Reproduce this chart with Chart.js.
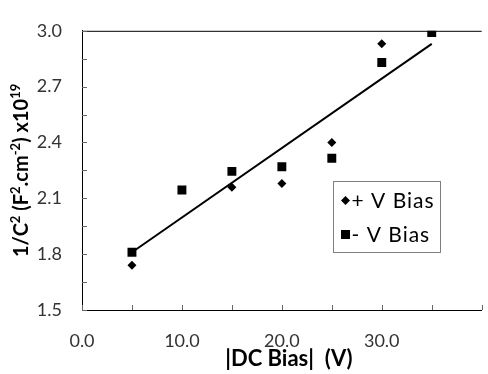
<!DOCTYPE html>
<html>
<head>
<meta charset="utf-8">
<script src="https://cdn.jsdelivr.net/npm/chart.js@4.4.1/dist/chart.umd.min.js"></script>
<style>
  html, body { margin: 0; padding: 0; background: #fff; }
  #wrap { width: 488px; height: 374px; }
</style>
</head>
<body>
<div id="wrap"><canvas id="chart"></canvas></div>
<script>
// data
const biasPlus = [5, 15, 20, 25, 30];
const invCapPlus = [1.74, 2.16, 2.18, 2.40, 2.93];
const biasMinus = [5, 10, 15, 20, 25, 30, 35];
const invCapMinus = [1.81, 2.145, 2.245, 2.27, 2.315, 2.83, 2.99];
const trendBias = [5, 35];
const trendInvCap = [1.81, 2.93];
const seriesNames = ['+ V Bias', '- V Bias'];

const xTitle = '|DC Bias|  (V)';
// y title pieces: [text, superscript?]
const yTitleParts = [['1/C', false], ['2', true], [' (F', false], ['2', true],
    ['.cm', false], ['-2', true], [') x10', false], ['19', true]];

const toPoints = (xs, ys) => xs.map((x, i) => ({ x: x, y: ys[i] }));

function drawSupText(ctx, parts, size) {
    const base = 'bold ' + size + 'px Lato';
    const sup = 'bold ' + Math.round(size * 0.65) + 'px Lato';
    let total = 0;
    parts.forEach(p => { ctx.font = p[1] ? sup : base; total += ctx.measureText(p[0]).width; });
    let x = -total / 2;
    ctx.textAlign = 'left';
    parts.forEach(p => {
        ctx.font = p[1] ? sup : base;
        ctx.fillText(p[0], x, p[1] ? -size * 0.33 : 0);
        x += ctx.measureText(p[0]).width;
    });
}

// inward ticks, top border, titles and the boxed legend
const decorPlugin = {
    id: 'decor',
    afterDraw(chart) {
        const ctx = chart.ctx;
        const a = chart.chartArea;
        const xs = chart.scales.x;
        const ys = chart.scales.y;
        ctx.save();

        ctx.strokeStyle = '#000';
        ctx.lineWidth = 1;
        ctx.beginPath();
        ctx.moveTo(a.left, a.top + 0.5);
        ctx.lineTo(a.right, a.top + 0.5);
        ctx.stroke();

        ctx.strokeStyle = '#666';
        ctx.beginPath();
        xs.ticks.forEach(t => {
            const px = Math.round(xs.getPixelForValue(t.value)) + 0.5;
            ctx.moveTo(px, a.bottom);
            ctx.lineTo(px, a.bottom - 5);
        });
        ys.ticks.forEach(t => {
            const py = Math.round(ys.getPixelForValue(t.value)) + 0.5;
            ctx.moveTo(a.left, py);
            ctx.lineTo(a.left + 5, py);
        });
        ctx.stroke();

        // axis titles
        ctx.fillStyle = '#000';
        ctx.font = 'bold 22px Lato';
        ctx.textAlign = 'center';
        ctx.textBaseline = 'middle';
        ctx.fillText(xTitle, (a.left + a.right) / 2 + 7, 359);
        ctx.translate(22, (a.top + a.bottom) / 2);
        ctx.rotate(-Math.PI / 2);
        drawSupText(ctx, yTitleParts, 20);
        ctx.setTransform(1, 0, 0, 1, 0, 0);

        // legend box
        const lx = 333.5, ly = 181.5, lw = 107, lh = 71;
        ctx.fillStyle = '#fff';
        ctx.fillRect(lx, ly, lw, lh);
        ctx.strokeStyle = '#7f7f7f';
        ctx.strokeRect(lx, ly, lw, lh);
        ctx.font = '21px Lato';
        ctx.letterSpacing = '1px';
        ctx.textAlign = 'left';
        chart.data.datasets.slice(0, 2).forEach((ds, i) => {
            const cy = ly + 19 + i * 34;
            Chart.helpers.drawPoint(ctx, {
                pointStyle: ds.pointStyle, radius: ds.pointRadius, borderWidth: 0
            }, lx + 12, cy);
            ctx.fillStyle = '#000';
            ctx.fill();
            ctx.fillText(ds.label, lx + 18, cy + 1);
        });
        ctx.restore();
    }
};

new Chart(document.getElementById('chart'), {
    type: 'scatter',
    data: {
        datasets: [
            {
                label: seriesNames[0],
                data: toPoints(biasPlus, invCapPlus),
                pointStyle: 'rectRot',
                pointRadius: 4.5,
                backgroundColor: '#000',
                borderColor: '#000',
                borderWidth: 0
            },
            {
                label: seriesNames[1],
                data: toPoints(biasMinus, invCapMinus),
                pointStyle: 'rect',
                pointRadius: 6.3,
                backgroundColor: '#000',
                borderColor: '#000',
                borderWidth: 0
            },
            {
                label: 'trend',
                data: toPoints(trendBias, trendInvCap),
                showLine: true,
                pointRadius: 0,
                borderColor: '#000',
                borderWidth: 2
            }
        ]
    },
    options: {
        responsive: true,
        maintainAspectRatio: false,
        animation: false,
        layout: { padding: { top: 21, right: 0, left: 0, bottom: 0 } },
        plugins: { legend: { display: false }, tooltip: { enabled: false } },
        scales: {
            x: {
                type: 'linear',
                min: 0,
                max: 40,
                grid: { display: false, drawTicks: false },
                border: { display: true, color: '#000', width: 1 },
                ticks: {
                    stepSize: 5,
                    autoSkip: false,
                    maxRotation: 0,
                    padding: 20,
                    color: '#333',
                    font: { family: 'Lato', size: 18 },
                    callback: v => (v % 10 === 0 && v < 40) ? v.toFixed(1) : ''
                },
                afterFit: s => { s.height = 64; s.paddingRight = 0; }
            },
            y: {
                min: 1.5,
                max: 3.0,
                grid: { display: false, drawTicks: false },
                border: { display: true, color: '#000', width: 1 },
                ticks: {
                    stepSize: 0.15,
                    autoSkip: false,
                    padding: 20,
                    color: '#333',
                    font: { family: 'Lato', size: 18 },
                    callback: (v, i) => i % 2 === 0 ? v.toFixed(1) : ''
                },
                afterFit: s => { s.width = 82; }
            }
        }
    },
    plugins: [decorPlugin]
});
</script>
</body>
</html>
